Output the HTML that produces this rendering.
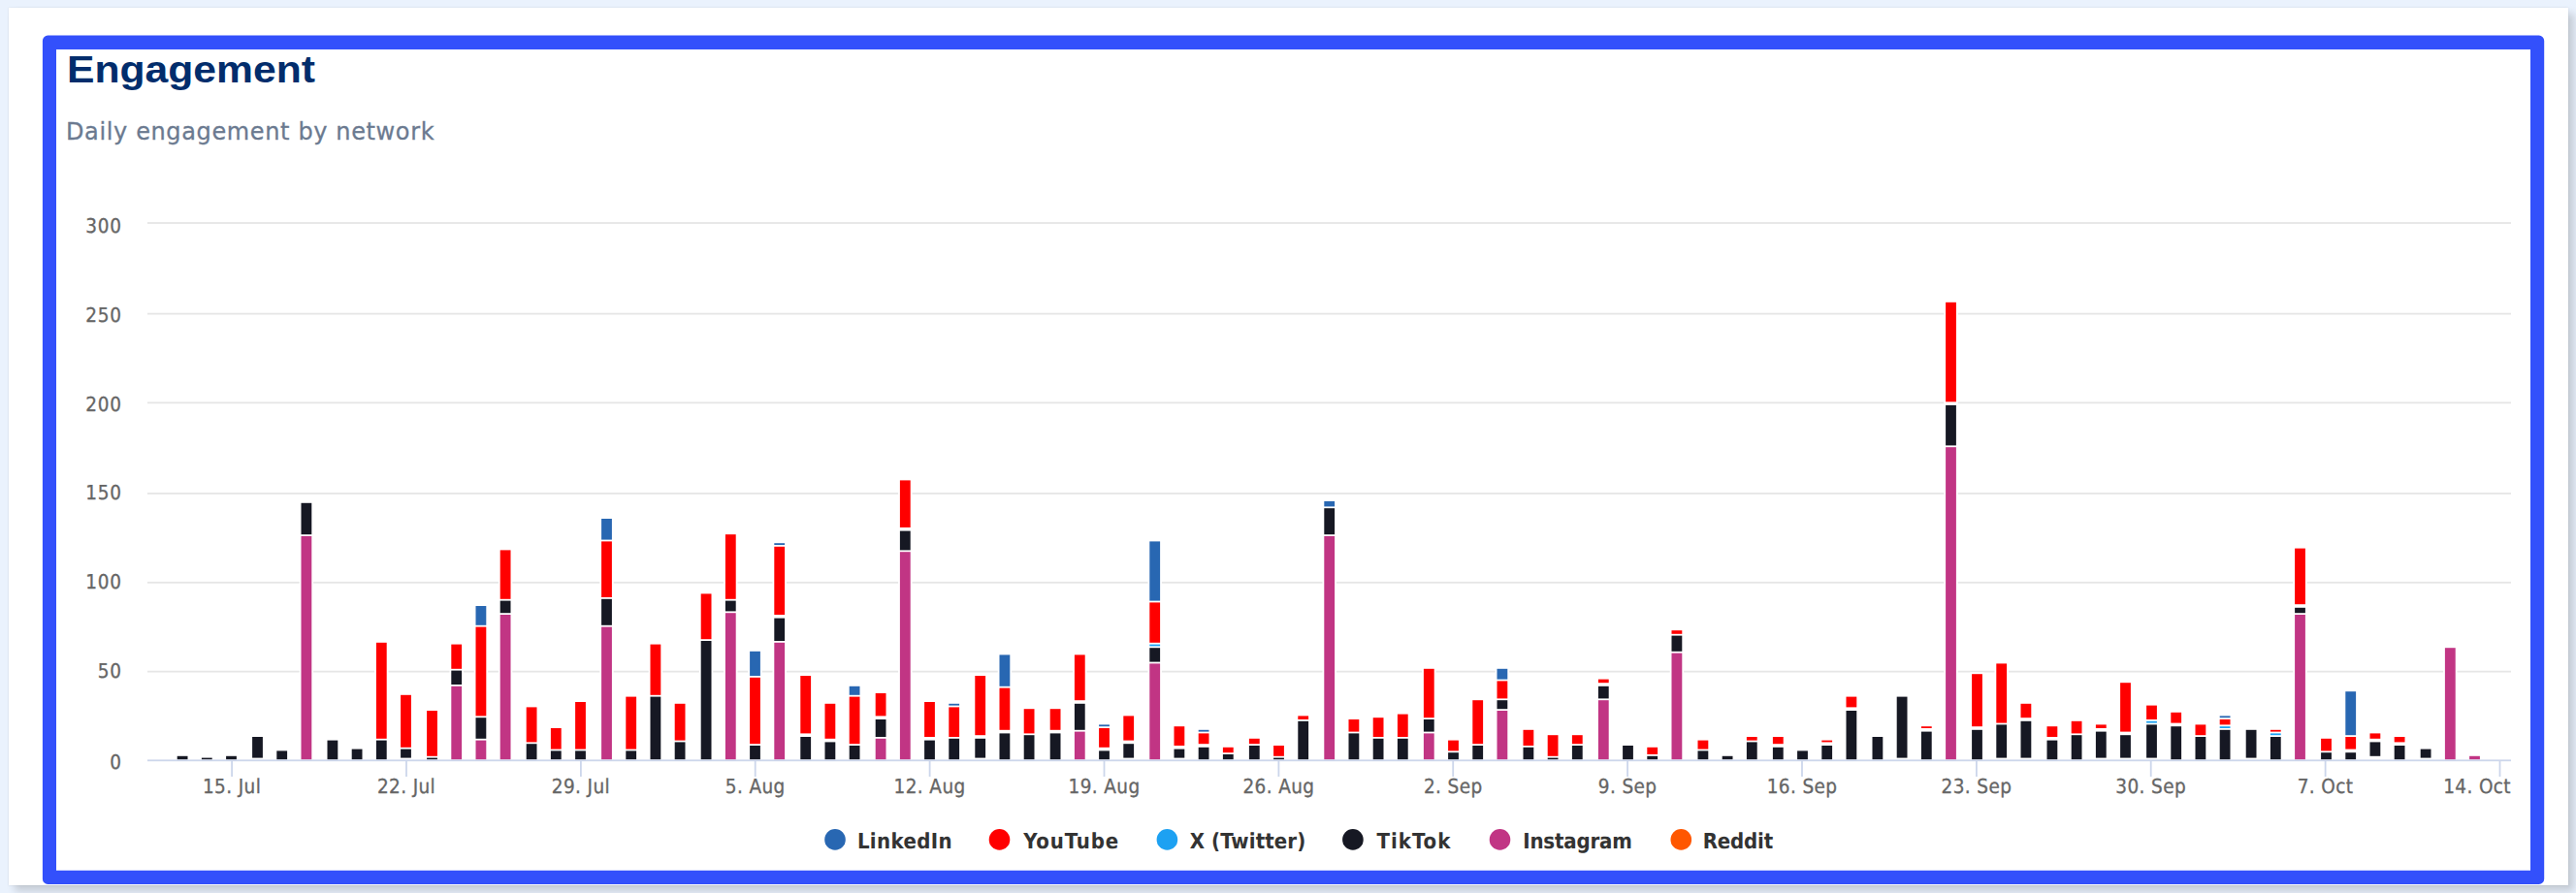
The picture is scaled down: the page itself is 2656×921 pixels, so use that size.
<!DOCTYPE html><html><head><meta charset="utf-8"><title>Engagement</title><style>

html,body{margin:0;padding:0}
body{width:2656px;height:921px;overflow:hidden;position:relative;background:#eaf2fd;font-family:"Liberation Sans",sans-serif}
.card{position:absolute;left:9px;top:8px;width:2639px;height:905px;background:#fff;box-shadow:6px 6px 8px rgba(0,0,0,.16),0 0 2px rgba(0,0,0,.1)}
.title{position:absolute;left:69px;top:45px;font:bold 38.5px/54px "Liberation Sans",sans-serif;color:#022d6c;white-space:nowrap;transform:scaleX(1.108);transform-origin:0 0}
.sub{position:absolute;left:68px;top:117.7px;font:24px/36px "DejaVu Sans",sans-serif;color:#6b7a90;letter-spacing:.63px;-webkit-text-stroke:.3px #6b7a90;white-space:nowrap}
svg{position:absolute;left:0;top:0}
svg text{text-rendering:geometricPrecision}
.ax{font-family:"DejaVu Sans Condensed","DejaVu Sans",sans-serif;font-size:20.5px;font-stretch:condensed;letter-spacing:.8px;fill:#666;stroke:#666;stroke-width:.3px}
.lg{font-family:"DejaVu Sans Condensed","DejaVu Sans",sans-serif;font-size:22px;font-stretch:condensed;font-weight:bold;fill:#333}

</style></head><body>
<div class="card"></div>
<div class="title">Engagement</div><div class="sub">Daily engagement by network</div>
<svg width="2656" height="921" viewBox="0 0 2656 921">
<path fill="#3350fb" fill-rule="evenodd" d="M49.3 36.6H2617.8a5.4 5.4 0 0 1 5.4 5.4V906.5a5.4 5.4 0 0 1-5.4 5.4H49.3a5.4 5.4 0 0 1-5.4-5.4V42.0a5.4 5.4 0 0 1 5.4-5.4zM58 50.9V897.8H2609V50.9z"/>
<g fill="#e6e6e6">
<rect x="152" y="229.1" width="2437" height="1.8"/>
<rect x="152" y="322.7" width="2437" height="1.8"/>
<rect x="152" y="414.5" width="2437" height="1.8"/>
<rect x="152" y="508.1" width="2437" height="1.8"/>
<rect x="152" y="599.9" width="2437" height="1.8"/>
<rect x="152" y="691.7" width="2437" height="1.8"/>
</g>
<g>
<rect x="180.90" y="778.00" width="14.4" height="5.40" fill="#fff"/>
<rect x="182.70" y="779.80" width="10.8" height="3.60" fill="#161823"/>
<rect x="206.10" y="779.80" width="14.4" height="3.60" fill="#fff"/>
<rect x="207.90" y="781.60" width="10.8" height="1.80" fill="#161823"/>
<rect x="231.30" y="778.00" width="14.4" height="5.40" fill="#fff"/>
<rect x="233.10" y="779.80" width="10.8" height="3.60" fill="#161823"/>
<rect x="258.30" y="758.20" width="14.4" height="25.20" fill="#fff"/>
<rect x="260.10" y="760.00" width="10.8" height="21.60" fill="#161823"/>
<rect x="283.50" y="772.60" width="14.4" height="10.80" fill="#fff"/>
<rect x="285.30" y="774.40" width="10.8" height="9.00" fill="#161823"/>
<rect x="308.70" y="517.00" width="14.4" height="266.40" fill="#fff"/>
<rect x="310.50" y="553.00" width="10.8" height="230.40" fill="#c13584"/>
<rect x="310.50" y="518.80" width="10.8" height="32.40" fill="#161823"/>
<rect x="335.70" y="761.80" width="14.4" height="21.60" fill="#fff"/>
<rect x="337.50" y="763.60" width="10.8" height="19.80" fill="#161823"/>
<rect x="360.90" y="770.80" width="14.4" height="12.60" fill="#fff"/>
<rect x="362.70" y="772.60" width="10.8" height="10.80" fill="#161823"/>
<rect x="386.10" y="661.00" width="14.4" height="122.40" fill="#fff"/>
<rect x="387.90" y="763.60" width="10.8" height="19.80" fill="#161823"/>
<rect x="387.90" y="662.80" width="10.8" height="99.00" fill="#ff0000"/>
<rect x="411.30" y="715.00" width="14.4" height="68.40" fill="#fff"/>
<rect x="413.10" y="772.60" width="10.8" height="9.00" fill="#161823"/>
<rect x="413.10" y="716.80" width="10.8" height="54.00" fill="#ff0000"/>
<rect x="438.30" y="731.20" width="14.4" height="52.20" fill="#fff"/>
<rect x="440.10" y="781.60" width="10.8" height="1.80" fill="#161823"/>
<rect x="440.10" y="733.00" width="10.8" height="46.80" fill="#ff0000"/>
<rect x="463.50" y="662.80" width="14.4" height="120.60" fill="#fff"/>
<rect x="465.30" y="707.80" width="10.8" height="75.60" fill="#c13584"/>
<rect x="465.30" y="691.60" width="10.8" height="14.40" fill="#161823"/>
<rect x="465.30" y="664.60" width="10.8" height="25.20" fill="#ff0000"/>
<rect x="488.70" y="623.20" width="14.4" height="160.20" fill="#fff"/>
<rect x="490.50" y="763.60" width="10.8" height="19.80" fill="#c13584"/>
<rect x="490.50" y="740.20" width="10.8" height="21.60" fill="#161823"/>
<rect x="490.50" y="646.60" width="10.8" height="91.80" fill="#ff0000"/>
<rect x="490.50" y="625.00" width="10.8" height="19.80" fill="#2867b2"/>
<rect x="513.90" y="565.60" width="14.4" height="217.80" fill="#fff"/>
<rect x="515.70" y="634.00" width="10.8" height="149.40" fill="#c13584"/>
<rect x="515.70" y="619.60" width="10.8" height="12.60" fill="#161823"/>
<rect x="515.70" y="567.40" width="10.8" height="50.40" fill="#ff0000"/>
<rect x="540.90" y="727.60" width="14.4" height="55.80" fill="#fff"/>
<rect x="542.70" y="767.20" width="10.8" height="16.20" fill="#161823"/>
<rect x="542.70" y="729.40" width="10.8" height="36.00" fill="#ff0000"/>
<rect x="566.10" y="749.20" width="14.4" height="34.20" fill="#fff"/>
<rect x="567.90" y="774.40" width="10.8" height="9.00" fill="#161823"/>
<rect x="567.90" y="751.00" width="10.8" height="21.60" fill="#ff0000"/>
<rect x="591.30" y="722.20" width="14.4" height="61.20" fill="#fff"/>
<rect x="593.10" y="774.40" width="10.8" height="9.00" fill="#161823"/>
<rect x="593.10" y="724.00" width="10.8" height="48.60" fill="#ff0000"/>
<rect x="618.30" y="533.20" width="14.4" height="250.20" fill="#fff"/>
<rect x="620.10" y="646.60" width="10.8" height="136.80" fill="#c13584"/>
<rect x="620.10" y="617.80" width="10.8" height="27.00" fill="#161823"/>
<rect x="620.10" y="558.40" width="10.8" height="57.60" fill="#ff0000"/>
<rect x="620.10" y="535.00" width="10.8" height="21.60" fill="#2867b2"/>
<rect x="643.50" y="716.80" width="14.4" height="66.60" fill="#fff"/>
<rect x="645.30" y="774.40" width="10.8" height="9.00" fill="#161823"/>
<rect x="645.30" y="718.60" width="10.8" height="54.00" fill="#ff0000"/>
<rect x="668.70" y="662.80" width="14.4" height="120.60" fill="#fff"/>
<rect x="670.50" y="718.60" width="10.8" height="64.80" fill="#161823"/>
<rect x="670.50" y="664.60" width="10.8" height="52.20" fill="#ff0000"/>
<rect x="693.90" y="724.00" width="14.4" height="59.40" fill="#fff"/>
<rect x="695.70" y="765.40" width="10.8" height="18.00" fill="#161823"/>
<rect x="695.70" y="725.80" width="10.8" height="37.80" fill="#ff0000"/>
<rect x="720.90" y="610.60" width="14.4" height="172.80" fill="#fff"/>
<rect x="722.70" y="661.00" width="10.8" height="122.40" fill="#161823"/>
<rect x="722.70" y="612.40" width="10.8" height="46.80" fill="#ff0000"/>
<rect x="746.10" y="549.40" width="14.4" height="234.00" fill="#fff"/>
<rect x="747.90" y="632.20" width="10.8" height="151.20" fill="#c13584"/>
<rect x="747.90" y="619.60" width="10.8" height="10.80" fill="#161823"/>
<rect x="747.90" y="551.20" width="10.8" height="66.60" fill="#ff0000"/>
<rect x="771.30" y="670.00" width="14.4" height="113.40" fill="#fff"/>
<rect x="773.10" y="769.00" width="10.8" height="14.40" fill="#161823"/>
<rect x="773.10" y="698.80" width="10.8" height="68.40" fill="#ff0000"/>
<rect x="773.10" y="671.80" width="10.8" height="25.20" fill="#2867b2"/>
<rect x="796.50" y="558.40" width="14.4" height="225.00" fill="#fff"/>
<rect x="798.30" y="662.80" width="10.8" height="120.60" fill="#c13584"/>
<rect x="798.30" y="637.60" width="10.8" height="23.40" fill="#161823"/>
<rect x="798.30" y="563.80" width="10.8" height="70.20" fill="#ff0000"/>
<rect x="798.30" y="560.20" width="10.8" height="1.80" fill="#2867b2"/>
<rect x="823.50" y="695.20" width="14.4" height="88.20" fill="#fff"/>
<rect x="825.30" y="760.00" width="10.8" height="23.40" fill="#161823"/>
<rect x="825.30" y="697.00" width="10.8" height="59.40" fill="#ff0000"/>
<rect x="848.70" y="724.00" width="14.4" height="59.40" fill="#fff"/>
<rect x="850.50" y="765.40" width="10.8" height="18.00" fill="#161823"/>
<rect x="850.50" y="725.80" width="10.8" height="36.00" fill="#ff0000"/>
<rect x="873.90" y="706.00" width="14.4" height="77.40" fill="#fff"/>
<rect x="875.70" y="769.00" width="10.8" height="14.40" fill="#161823"/>
<rect x="875.70" y="718.60" width="10.8" height="48.60" fill="#ff0000"/>
<rect x="875.70" y="707.80" width="10.8" height="9.00" fill="#2867b2"/>
<rect x="900.90" y="713.20" width="14.4" height="70.20" fill="#fff"/>
<rect x="902.70" y="761.80" width="10.8" height="21.60" fill="#c13584"/>
<rect x="902.70" y="742.00" width="10.8" height="18.00" fill="#161823"/>
<rect x="902.70" y="715.00" width="10.8" height="23.40" fill="#ff0000"/>
<rect x="926.10" y="493.60" width="14.4" height="289.80" fill="#fff"/>
<rect x="927.90" y="569.20" width="10.8" height="214.20" fill="#c13584"/>
<rect x="927.90" y="547.60" width="10.8" height="19.80" fill="#161823"/>
<rect x="927.90" y="495.40" width="10.8" height="48.60" fill="#ff0000"/>
<rect x="951.30" y="722.20" width="14.4" height="61.20" fill="#fff"/>
<rect x="953.10" y="763.60" width="10.8" height="19.80" fill="#161823"/>
<rect x="953.10" y="724.00" width="10.8" height="36.00" fill="#ff0000"/>
<rect x="976.50" y="724.00" width="14.4" height="59.40" fill="#fff"/>
<rect x="978.30" y="761.80" width="10.8" height="21.60" fill="#161823"/>
<rect x="978.30" y="729.40" width="10.8" height="30.60" fill="#ff0000"/>
<rect x="978.30" y="725.80" width="10.8" height="1.80" fill="#2867b2"/>
<rect x="1003.50" y="695.20" width="14.4" height="88.20" fill="#fff"/>
<rect x="1005.30" y="761.80" width="10.8" height="19.80" fill="#161823"/>
<rect x="1005.30" y="697.00" width="10.8" height="61.20" fill="#ff0000"/>
<rect x="1028.70" y="673.60" width="14.4" height="109.80" fill="#fff"/>
<rect x="1030.50" y="756.40" width="10.8" height="27.00" fill="#161823"/>
<rect x="1030.50" y="709.60" width="10.8" height="43.20" fill="#ff0000"/>
<rect x="1030.50" y="675.40" width="10.8" height="32.40" fill="#2867b2"/>
<rect x="1053.90" y="729.40" width="14.4" height="54.00" fill="#fff"/>
<rect x="1055.70" y="758.20" width="10.8" height="25.20" fill="#161823"/>
<rect x="1055.70" y="731.20" width="10.8" height="25.20" fill="#ff0000"/>
<rect x="1080.90" y="729.40" width="14.4" height="54.00" fill="#fff"/>
<rect x="1082.70" y="756.40" width="10.8" height="27.00" fill="#161823"/>
<rect x="1082.70" y="731.20" width="10.8" height="21.60" fill="#ff0000"/>
<rect x="1106.10" y="673.60" width="14.4" height="109.80" fill="#fff"/>
<rect x="1107.90" y="754.60" width="10.8" height="28.80" fill="#c13584"/>
<rect x="1107.90" y="725.80" width="10.8" height="27.00" fill="#161823"/>
<rect x="1107.90" y="675.40" width="10.8" height="46.80" fill="#ff0000"/>
<rect x="1131.30" y="745.60" width="14.4" height="37.80" fill="#fff"/>
<rect x="1133.10" y="774.40" width="10.8" height="9.00" fill="#161823"/>
<rect x="1133.10" y="751.00" width="10.8" height="19.80" fill="#ff0000"/>
<rect x="1133.10" y="747.40" width="10.8" height="1.80" fill="#2867b2"/>
<rect x="1156.50" y="736.60" width="14.4" height="46.80" fill="#fff"/>
<rect x="1158.30" y="767.20" width="10.8" height="14.40" fill="#161823"/>
<rect x="1158.30" y="738.40" width="10.8" height="25.20" fill="#ff0000"/>
<rect x="1183.50" y="556.60" width="14.4" height="226.80" fill="#fff"/>
<rect x="1185.30" y="684.40" width="10.8" height="99.00" fill="#c13584"/>
<rect x="1185.30" y="668.20" width="10.8" height="14.40" fill="#161823"/>
<rect x="1185.30" y="664.60" width="10.8" height="1.80" fill="#1da1f2"/>
<rect x="1185.30" y="621.40" width="10.8" height="41.40" fill="#ff0000"/>
<rect x="1185.30" y="558.40" width="10.8" height="61.20" fill="#2867b2"/>
<rect x="1208.70" y="747.40" width="14.4" height="36.00" fill="#fff"/>
<rect x="1210.50" y="772.60" width="10.8" height="9.00" fill="#161823"/>
<rect x="1210.50" y="749.20" width="10.8" height="19.80" fill="#ff0000"/>
<rect x="1233.90" y="751.00" width="14.4" height="32.40" fill="#fff"/>
<rect x="1235.70" y="770.80" width="10.8" height="12.60" fill="#161823"/>
<rect x="1235.70" y="756.40" width="10.8" height="10.80" fill="#ff0000"/>
<rect x="1235.70" y="752.80" width="10.8" height="1.80" fill="#2867b2"/>
<rect x="1259.10" y="769.00" width="14.4" height="14.40" fill="#fff"/>
<rect x="1260.90" y="778.00" width="10.8" height="5.40" fill="#161823"/>
<rect x="1260.90" y="770.80" width="10.8" height="5.40" fill="#ff0000"/>
<rect x="1286.10" y="760.00" width="14.4" height="23.40" fill="#fff"/>
<rect x="1287.90" y="769.00" width="10.8" height="14.40" fill="#161823"/>
<rect x="1287.90" y="761.80" width="10.8" height="5.40" fill="#ff0000"/>
<rect x="1311.30" y="767.20" width="14.4" height="16.20" fill="#fff"/>
<rect x="1313.10" y="781.60" width="10.8" height="1.80" fill="#161823"/>
<rect x="1313.10" y="769.00" width="10.8" height="10.80" fill="#ff0000"/>
<rect x="1336.50" y="736.60" width="14.4" height="46.80" fill="#fff"/>
<rect x="1338.30" y="743.80" width="10.8" height="39.60" fill="#161823"/>
<rect x="1338.30" y="738.40" width="10.8" height="3.60" fill="#ff0000"/>
<rect x="1363.50" y="515.20" width="14.4" height="268.20" fill="#fff"/>
<rect x="1365.30" y="553.00" width="10.8" height="230.40" fill="#c13584"/>
<rect x="1365.30" y="524.20" width="10.8" height="27.00" fill="#161823"/>
<rect x="1365.30" y="517.00" width="10.8" height="5.40" fill="#2867b2"/>
<rect x="1388.70" y="740.20" width="14.4" height="43.20" fill="#fff"/>
<rect x="1390.50" y="756.40" width="10.8" height="27.00" fill="#161823"/>
<rect x="1390.50" y="742.00" width="10.8" height="12.60" fill="#ff0000"/>
<rect x="1413.90" y="738.40" width="14.4" height="45.00" fill="#fff"/>
<rect x="1415.70" y="761.80" width="10.8" height="21.60" fill="#161823"/>
<rect x="1415.70" y="740.20" width="10.8" height="19.80" fill="#ff0000"/>
<rect x="1439.10" y="734.80" width="14.4" height="48.60" fill="#fff"/>
<rect x="1440.90" y="761.80" width="10.8" height="21.60" fill="#161823"/>
<rect x="1440.90" y="736.60" width="10.8" height="23.40" fill="#ff0000"/>
<rect x="1466.10" y="688.00" width="14.4" height="95.40" fill="#fff"/>
<rect x="1467.90" y="756.40" width="10.8" height="27.00" fill="#c13584"/>
<rect x="1467.90" y="742.00" width="10.8" height="12.60" fill="#161823"/>
<rect x="1467.90" y="689.80" width="10.8" height="50.40" fill="#ff0000"/>
<rect x="1491.30" y="761.80" width="14.4" height="21.60" fill="#fff"/>
<rect x="1493.10" y="776.20" width="10.8" height="7.20" fill="#161823"/>
<rect x="1493.10" y="763.60" width="10.8" height="10.80" fill="#ff0000"/>
<rect x="1516.50" y="720.40" width="14.4" height="63.00" fill="#fff"/>
<rect x="1518.30" y="769.00" width="10.8" height="14.40" fill="#161823"/>
<rect x="1518.30" y="722.20" width="10.8" height="45.00" fill="#ff0000"/>
<rect x="1541.70" y="688.00" width="14.4" height="95.40" fill="#fff"/>
<rect x="1543.50" y="733.00" width="10.8" height="50.40" fill="#c13584"/>
<rect x="1543.50" y="722.20" width="10.8" height="9.00" fill="#161823"/>
<rect x="1543.50" y="702.40" width="10.8" height="18.00" fill="#ff0000"/>
<rect x="1543.50" y="689.80" width="10.8" height="10.80" fill="#2867b2"/>
<rect x="1568.70" y="751.00" width="14.4" height="32.40" fill="#fff"/>
<rect x="1570.50" y="770.80" width="10.8" height="12.60" fill="#161823"/>
<rect x="1570.50" y="752.80" width="10.8" height="16.20" fill="#ff0000"/>
<rect x="1593.90" y="756.40" width="14.4" height="27.00" fill="#fff"/>
<rect x="1595.70" y="781.60" width="10.8" height="1.80" fill="#161823"/>
<rect x="1595.70" y="758.20" width="10.8" height="21.60" fill="#ff0000"/>
<rect x="1619.10" y="756.40" width="14.4" height="27.00" fill="#fff"/>
<rect x="1620.90" y="769.00" width="10.8" height="14.40" fill="#161823"/>
<rect x="1620.90" y="758.20" width="10.8" height="9.00" fill="#ff0000"/>
<rect x="1646.10" y="698.80" width="14.4" height="84.60" fill="#fff"/>
<rect x="1647.90" y="722.20" width="10.8" height="61.20" fill="#c13584"/>
<rect x="1647.90" y="707.80" width="10.8" height="12.60" fill="#161823"/>
<rect x="1647.90" y="700.60" width="10.8" height="3.60" fill="#ff0000"/>
<rect x="1671.30" y="767.20" width="14.4" height="16.20" fill="#fff"/>
<rect x="1673.10" y="769.00" width="10.8" height="14.40" fill="#161823"/>
<rect x="1696.50" y="769.00" width="14.4" height="14.40" fill="#fff"/>
<rect x="1698.30" y="779.80" width="10.8" height="3.60" fill="#161823"/>
<rect x="1698.30" y="770.80" width="10.8" height="7.20" fill="#ff0000"/>
<rect x="1721.70" y="648.40" width="14.4" height="135.00" fill="#fff"/>
<rect x="1723.50" y="673.60" width="10.8" height="109.80" fill="#c13584"/>
<rect x="1723.50" y="655.60" width="10.8" height="16.20" fill="#161823"/>
<rect x="1723.50" y="650.20" width="10.8" height="3.60" fill="#ff0000"/>
<rect x="1748.70" y="761.80" width="14.4" height="21.60" fill="#fff"/>
<rect x="1750.50" y="774.40" width="10.8" height="9.00" fill="#161823"/>
<rect x="1750.50" y="763.60" width="10.8" height="9.00" fill="#ff0000"/>
<rect x="1773.90" y="778.00" width="14.4" height="5.40" fill="#fff"/>
<rect x="1775.70" y="779.80" width="10.8" height="3.60" fill="#161823"/>
<rect x="1799.10" y="758.20" width="14.4" height="25.20" fill="#fff"/>
<rect x="1800.90" y="765.40" width="10.8" height="18.00" fill="#161823"/>
<rect x="1800.90" y="760.00" width="10.8" height="3.60" fill="#ff0000"/>
<rect x="1826.10" y="758.20" width="14.4" height="25.20" fill="#fff"/>
<rect x="1827.90" y="770.80" width="10.8" height="12.60" fill="#161823"/>
<rect x="1827.90" y="760.00" width="10.8" height="7.20" fill="#ff0000"/>
<rect x="1851.30" y="772.60" width="14.4" height="10.80" fill="#fff"/>
<rect x="1853.10" y="774.40" width="10.8" height="9.00" fill="#161823"/>
<rect x="1876.50" y="761.80" width="14.4" height="21.60" fill="#fff"/>
<rect x="1878.30" y="769.00" width="10.8" height="14.40" fill="#161823"/>
<rect x="1878.30" y="763.60" width="10.8" height="1.80" fill="#ff0000"/>
<rect x="1901.70" y="716.80" width="14.4" height="66.60" fill="#fff"/>
<rect x="1903.50" y="733.00" width="10.8" height="50.40" fill="#161823"/>
<rect x="1903.50" y="718.60" width="10.8" height="10.80" fill="#ff0000"/>
<rect x="1928.70" y="758.20" width="14.4" height="25.20" fill="#fff"/>
<rect x="1930.50" y="760.00" width="10.8" height="23.40" fill="#161823"/>
<rect x="1953.90" y="716.80" width="14.4" height="66.60" fill="#fff"/>
<rect x="1955.70" y="718.60" width="10.8" height="63.00" fill="#161823"/>
<rect x="1979.10" y="747.40" width="14.4" height="36.00" fill="#fff"/>
<rect x="1980.90" y="754.60" width="10.8" height="28.80" fill="#161823"/>
<rect x="1980.90" y="749.20" width="10.8" height="1.80" fill="#ff0000"/>
<rect x="2004.30" y="310.00" width="14.4" height="473.40" fill="#fff"/>
<rect x="2006.10" y="461.20" width="10.8" height="322.20" fill="#c13584"/>
<rect x="2006.10" y="418.00" width="10.8" height="41.40" fill="#161823"/>
<rect x="2006.10" y="311.80" width="10.8" height="102.60" fill="#ff0000"/>
<rect x="2031.30" y="693.40" width="14.4" height="90.00" fill="#fff"/>
<rect x="2033.10" y="752.80" width="10.8" height="30.60" fill="#161823"/>
<rect x="2033.10" y="695.20" width="10.8" height="54.00" fill="#ff0000"/>
<rect x="2056.50" y="682.60" width="14.4" height="100.80" fill="#fff"/>
<rect x="2058.30" y="747.40" width="10.8" height="34.20" fill="#161823"/>
<rect x="2058.30" y="684.40" width="10.8" height="61.20" fill="#ff0000"/>
<rect x="2081.70" y="724.00" width="14.4" height="59.40" fill="#fff"/>
<rect x="2083.50" y="743.80" width="10.8" height="37.80" fill="#161823"/>
<rect x="2083.50" y="725.80" width="10.8" height="14.40" fill="#ff0000"/>
<rect x="2108.70" y="747.40" width="14.4" height="36.00" fill="#fff"/>
<rect x="2110.50" y="763.60" width="10.8" height="19.80" fill="#161823"/>
<rect x="2110.50" y="749.20" width="10.8" height="10.80" fill="#ff0000"/>
<rect x="2133.90" y="742.00" width="14.4" height="41.40" fill="#fff"/>
<rect x="2135.70" y="758.20" width="10.8" height="25.20" fill="#161823"/>
<rect x="2135.70" y="743.80" width="10.8" height="12.60" fill="#ff0000"/>
<rect x="2159.10" y="745.60" width="14.4" height="37.80" fill="#fff"/>
<rect x="2160.90" y="754.60" width="10.8" height="27.00" fill="#161823"/>
<rect x="2160.90" y="747.40" width="10.8" height="3.60" fill="#ff0000"/>
<rect x="2184.30" y="702.40" width="14.4" height="81.00" fill="#fff"/>
<rect x="2186.10" y="758.20" width="10.8" height="23.40" fill="#161823"/>
<rect x="2186.10" y="704.20" width="10.8" height="50.40" fill="#ff0000"/>
<rect x="2211.30" y="725.80" width="14.4" height="57.60" fill="#fff"/>
<rect x="2213.10" y="747.40" width="10.8" height="34.20" fill="#161823"/>
<rect x="2213.10" y="743.80" width="10.8" height="1.80" fill="#1da1f2"/>
<rect x="2213.10" y="727.60" width="10.8" height="14.40" fill="#ff0000"/>
<rect x="2236.50" y="733.00" width="14.4" height="50.40" fill="#fff"/>
<rect x="2238.30" y="749.20" width="10.8" height="34.20" fill="#161823"/>
<rect x="2238.30" y="734.80" width="10.8" height="10.80" fill="#ff0000"/>
<rect x="2261.70" y="745.60" width="14.4" height="37.80" fill="#fff"/>
<rect x="2263.50" y="760.00" width="10.8" height="23.40" fill="#161823"/>
<rect x="2263.50" y="747.40" width="10.8" height="10.80" fill="#ff0000"/>
<rect x="2286.90" y="736.60" width="14.4" height="46.80" fill="#fff"/>
<rect x="2288.70" y="752.80" width="10.8" height="30.60" fill="#161823"/>
<rect x="2288.70" y="749.20" width="10.8" height="1.80" fill="#1da1f2"/>
<rect x="2288.70" y="742.00" width="10.8" height="5.40" fill="#ff0000"/>
<rect x="2288.70" y="738.40" width="10.8" height="1.80" fill="#2867b2"/>
<rect x="2313.90" y="751.00" width="14.4" height="32.40" fill="#fff"/>
<rect x="2315.70" y="752.80" width="10.8" height="28.80" fill="#161823"/>
<rect x="2339.10" y="751.00" width="14.4" height="32.40" fill="#fff"/>
<rect x="2340.90" y="760.00" width="10.8" height="23.40" fill="#161823"/>
<rect x="2340.90" y="756.40" width="10.8" height="1.80" fill="#1da1f2"/>
<rect x="2340.90" y="752.80" width="10.8" height="1.80" fill="#ff0000"/>
<rect x="2364.30" y="563.80" width="14.4" height="219.60" fill="#fff"/>
<rect x="2366.10" y="634.00" width="10.8" height="149.40" fill="#c13584"/>
<rect x="2366.10" y="626.80" width="10.8" height="5.40" fill="#161823"/>
<rect x="2366.10" y="565.60" width="10.8" height="57.60" fill="#ff0000"/>
<rect x="2391.30" y="760.00" width="14.4" height="23.40" fill="#fff"/>
<rect x="2393.10" y="776.20" width="10.8" height="7.20" fill="#161823"/>
<rect x="2393.10" y="761.80" width="10.8" height="12.60" fill="#ff0000"/>
<rect x="2416.50" y="711.40" width="14.4" height="72.00" fill="#fff"/>
<rect x="2418.30" y="776.20" width="10.8" height="7.20" fill="#161823"/>
<rect x="2418.30" y="760.00" width="10.8" height="12.60" fill="#ff0000"/>
<rect x="2418.30" y="713.20" width="10.8" height="45.00" fill="#2867b2"/>
<rect x="2441.70" y="754.60" width="14.4" height="27.00" fill="#fff"/>
<rect x="2443.50" y="765.40" width="10.8" height="14.40" fill="#161823"/>
<rect x="2443.50" y="756.40" width="10.8" height="5.40" fill="#ff0000"/>
<rect x="2466.90" y="758.20" width="14.4" height="25.20" fill="#fff"/>
<rect x="2468.70" y="769.00" width="10.8" height="14.40" fill="#161823"/>
<rect x="2468.70" y="760.00" width="10.8" height="5.40" fill="#ff0000"/>
<rect x="2493.90" y="770.80" width="14.4" height="12.60" fill="#fff"/>
<rect x="2495.70" y="772.60" width="10.8" height="9.00" fill="#161823"/>
<rect x="2519.10" y="666.40" width="14.4" height="117.00" fill="#fff"/>
<rect x="2520.90" y="668.20" width="10.8" height="115.20" fill="#c13584"/>
<rect x="2544.30" y="778.00" width="14.4" height="5.40" fill="#fff"/>
<rect x="2546.10" y="779.80" width="10.8" height="3.60" fill="#c13584"/>
</g>
<g fill="#ccd6eb">
<rect x="152" y="783.4" width="2437" height="1.8"/>
<rect x="238.2" y="784" width="1.8" height="17"/>
<rect x="418.1" y="784" width="1.8" height="17"/>
<rect x="598.0" y="784" width="1.8" height="17"/>
<rect x="777.8" y="784" width="1.8" height="17"/>
<rect x="957.7" y="784" width="1.8" height="17"/>
<rect x="1137.6" y="784" width="1.8" height="17"/>
<rect x="1317.5" y="784" width="1.8" height="17"/>
<rect x="1497.3" y="784" width="1.8" height="17"/>
<rect x="1677.2" y="784" width="1.8" height="17"/>
<rect x="1857.1" y="784" width="1.8" height="17"/>
<rect x="2037.0" y="784" width="1.8" height="17"/>
<rect x="2216.8" y="784" width="1.8" height="17"/>
<rect x="2396.7" y="784" width="1.8" height="17"/>
<rect x="2576.6" y="784" width="1.8" height="17"/>
</g>
<g class="ax" text-anchor="middle" style="letter-spacing:.4px">
<text x="239.1" y="817.6">15. Jul</text>
<text x="419.0" y="817.6">22. Jul</text>
<text x="598.9" y="817.6">29. Jul</text>
<text x="778.7" y="817.6">5. Aug</text>
<text x="958.6" y="817.6">12. Aug</text>
<text x="1138.5" y="817.6">19. Aug</text>
<text x="1318.4" y="817.6">26. Aug</text>
<text x="1498.2" y="817.6">2. Sep</text>
<text x="1678.1" y="817.6">9. Sep</text>
<text x="1858.0" y="817.6">16. Sep</text>
<text x="2037.9" y="817.6">23. Sep</text>
<text x="2217.7" y="817.6">30. Sep</text>
<text x="2397.6" y="817.6">7. Oct</text>
<text x="2589" y="817.6" text-anchor="end">14. Oct</text>
</g>
<g class="ax" text-anchor="end">
<text x="125.9" y="240.4">300</text>
<text x="125.9" y="332.2">250</text>
<text x="125.9" y="424.1">200</text>
<text x="125.9" y="515.1">150</text>
<text x="125.9" y="607.2">100</text>
<text x="125.9" y="699.2">50</text>
<text x="125.9" y="793.1">0</text>
</g>
<g class="lg">
<circle cx="861" cy="865.9" r="10.8" fill="#2867b2"/>
<text x="883.9" y="875" letter-spacing="0.37">LinkedIn</text>
<circle cx="1030.5" cy="865.9" r="10.8" fill="#ff0000"/>
<text x="1055.2" y="875" letter-spacing="0.87">YouTube</text>
<circle cx="1203.4" cy="865.9" r="10.8" fill="#1da1f2"/>
<text x="1226.7" y="875" letter-spacing="0.1">X (Twitter)</text>
<circle cx="1394.9" cy="865.9" r="10.8" fill="#161823"/>
<text x="1419.4" y="875" letter-spacing="1.04">TikTok</text>
<circle cx="1546.5" cy="865.9" r="10.8" fill="#c13584"/>
<text x="1570.2" y="875" letter-spacing="-0.17">Instagram</text>
<circle cx="1733.3" cy="865.9" r="10.8" fill="#ff5700"/>
<text x="1755.8" y="875" letter-spacing="-0.18">Reddit</text>
</g>
</svg></body></html>
